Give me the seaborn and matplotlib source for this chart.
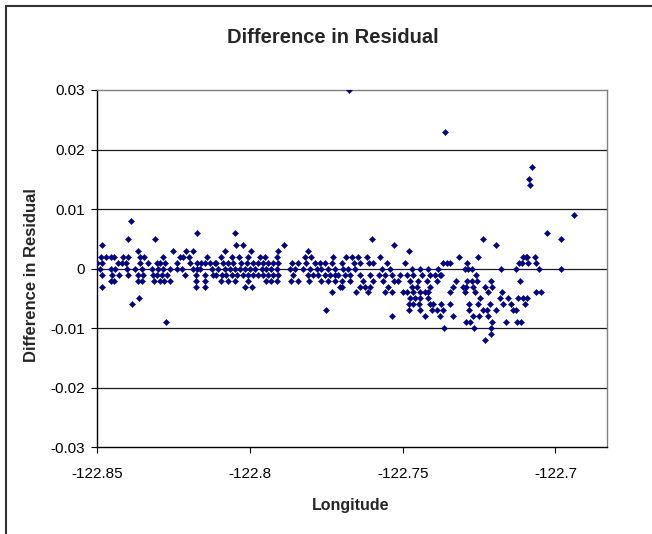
"""
Difference in Residual vs Longitude (Excel-style scatter)
"""

import numpy as np
import pandas as pd
import matplotlib
matplotlib.use('Agg')
import matplotlib.pyplot as plt
import seaborn as sns
from matplotlib.lines import Line2D

# Data, split by longitude band
west_lon = [
    -122.8391, -122.8175, -122.8399, -122.8311, -122.8486,
    -122.8366, -122.8251, -122.8208, -122.8188,
    -122.8489, -122.8472, -122.8456, -122.8445, -122.8415, -122.8399, -122.8360,
    -122.8347, -122.8284, -122.8229, -122.8219, -122.8199, -122.8142,
    -122.8500, -122.8483, -122.8431, -122.8420, -122.8406, -122.8360, -122.8333, -122.8306, -122.8295,
    -122.8279, -122.8238, -122.8197, -122.8175, -122.8159, -122.8148, -122.8131, -122.8115,
    -122.8491, -122.8456, -122.8442, -122.8404, -122.8377, -122.8352, -122.8322, -122.8300,
    -122.8286, -122.8262, -122.8240, -122.8224, -122.8186, -122.8175, -122.8164, -122.8126,
    -122.8486, -122.8453, -122.8428, -122.8399, -122.8366, -122.8349, -122.8317,
    -122.8306, -122.8289, -122.8271, -122.8213, -122.8177, -122.8148, -122.8120,
    -122.8456, -122.8445, -122.8366, -122.8352, -122.8315, -122.8295, -122.8282, -122.8262, -122.8177, -122.8148,
    -122.8483, -122.8177, -122.8148, -122.8363, -122.8388, -122.8275,
]
west_diff = [
    0.008, 0.006, 0.005, 0.005, 0.004,
    0.003, 0.003, 0.003, 0.003,
    0.002, 0.002, 0.002, 0.002, 0.002, 0.002, 0.002,
    0.002, 0.002, 0.002, 0.002, 0.002, 0.002,
    0.001, 0.001, 0.001, 0.001, 0.001, 0.001, 0.001, 0.001, 0.001,
    0.001, 0.001, 0.001, 0.001, 0.001, 0.001, 0.001, 0.001,
    0.0, 0.0, 0.0, 0.0, 0.0, 0.0, 0.0, 0.0,
    0.0, 0.0, 0.0, 0.0, 0.0, 0.0, 0.0, 0.0,
    -0.001, -0.001, -0.001, -0.001, -0.001, -0.001, -0.001,
    -0.001, -0.001, -0.001, -0.001, -0.001, -0.001, -0.001,
    -0.002, -0.002, -0.002, -0.002, -0.002, -0.002, -0.002, -0.002, -0.002, -0.002,
    -0.003, -0.003, -0.003, -0.005, -0.006, -0.009,
]

central_lon = [
    -122.8050, -122.8047, -122.8022, -122.7888,
    -122.8082, -122.7997, -122.7908, -122.7810,
    -122.8095, -122.8060, -122.8036, -122.8006, -122.7968,
    -122.7951, -122.7913, -122.7820, -122.7799, -122.7728,
    -122.8110, -122.8088, -122.8071, -122.8055, -122.8028, -122.8011, -122.7990,
    -122.7973, -122.7957, -122.7940, -122.7924, -122.7908, -122.7864,
    -122.7842, -122.7815, -122.7788, -122.7771, -122.7755, -122.7733,
    -122.8104, -122.8082, -122.8066, -122.8050, -122.8033, -122.8017, -122.8000,
    -122.7984, -122.7962, -122.7946, -122.7930, -122.7913, -122.7870, -122.7853,
    -122.7826, -122.7804, -122.7782, -122.7766, -122.7744, -122.7722,
    -122.8110, -122.8093, -122.8077, -122.8060, -122.8044, -122.8022, -122.8006,
    -122.7990, -122.7973, -122.7957, -122.7940, -122.7924, -122.7908, -122.7859,
    -122.7810, -122.7793, -122.7777, -122.7755, -122.7739, -122.7722, -122.7711,
    -122.8095, -122.8071, -122.8050, -122.8006, -122.7946, -122.7930, -122.7913,
    -122.7866, -122.7842, -122.7806, -122.7766, -122.7744, -122.7722,
    -122.8017, -122.7995, -122.7706, -122.7733, -122.7752,
]
central_diff = [
    0.006, 0.004, 0.004, 0.004,
    0.003, 0.003, 0.003, 0.003,
    0.002, 0.002, 0.002, 0.002, 0.002,
    0.002, 0.002, 0.002, 0.002, 0.002,
    0.001, 0.001, 0.001, 0.001, 0.001, 0.001, 0.001,
    0.001, 0.001, 0.001, 0.001, 0.001, 0.001,
    0.001, 0.001, 0.001, 0.001, 0.001, 0.001,
    0.0, 0.0, 0.0, 0.0, 0.0, 0.0, 0.0,
    0.0, 0.0, 0.0, 0.0, 0.0, 0.0, 0.0,
    0.0, 0.0, 0.0, 0.0, 0.0, 0.0,
    -0.001, -0.001, -0.001, -0.001, -0.001, -0.001, -0.001,
    -0.001, -0.001, -0.001, -0.001, -0.001, -0.001, -0.001,
    -0.001, -0.001, -0.001, -0.001, -0.001, -0.001, -0.001,
    -0.002, -0.002, -0.002, -0.002, -0.002, -0.002, -0.002,
    -0.002, -0.002, -0.002, -0.002, -0.002, -0.002,
    -0.003, -0.003, -0.003, -0.004, -0.007,
]

east_lon = [
    -122.7599, -122.7530, -122.7479,
    -122.7685, -122.7667, -122.7645, -122.7618, -122.7574,
    -122.7700, -122.7661, -122.7640, -122.7609, -122.7596, -122.7552, -122.7492,
    -122.7694, -122.7678, -122.7656, -122.7569, -122.7541, -122.7470, -122.7443, -122.7416, -122.7383,
    -122.7689, -122.7672, -122.7640, -122.7607, -122.7576, -122.7558, -122.7536,
    -122.7509, -122.7487, -122.7467, -122.7438, -122.7410, -122.7394, -122.7378,
    -122.7700, -122.7672, -122.7629, -122.7596, -122.7563, -122.7530,
    -122.7514, -122.7476, -122.7449, -122.7421, -122.7389,
    -122.7700, -122.7640, -122.7623, -122.7607, -122.7547, -122.7470, -122.7454, -122.7410,
    -122.7653, -122.7612, -122.7558, -122.7536, -122.7498,
    -122.7487, -122.7465, -122.7443, -122.7427, -122.7416,
    -122.7476, -122.7460, -122.7443, -122.7416,
    -122.7481, -122.7465, -122.7445, -122.7410, -122.7400,
    -122.7479, -122.7443, -122.7405, -122.7389,
    -122.7536, -122.7427, -122.7378,
]
east_diff = [
    0.005, 0.004, 0.003,
    0.002, 0.002, 0.002, 0.002, 0.002,
    0.001, 0.001, 0.001, 0.001, 0.001, 0.001, 0.001,
    0.0, 0.0, 0.0, 0.0, 0.0, 0.0, 0.0, 0.0, 0.0,
    -0.001, -0.001, -0.001, -0.001, -0.001, -0.001, -0.001,
    -0.001, -0.001, -0.001, -0.001, -0.001, -0.001, -0.001,
    -0.002, -0.002, -0.002, -0.002, -0.002, -0.002,
    -0.002, -0.002, -0.002, -0.002, -0.002,
    -0.003, -0.003, -0.003, -0.003, -0.003, -0.003, -0.003, -0.003,
    -0.004, -0.004, -0.004, -0.004, -0.004,
    -0.004, -0.004, -0.004, -0.004, -0.004,
    -0.005, -0.005, -0.005, -0.005,
    -0.006, -0.006, -0.006, -0.006, -0.006,
    -0.007, -0.007, -0.007, -0.007,
    -0.008, -0.008, -0.008,
]

far_east_lon = [
    -122.7076, -122.7086, -122.7083, -122.6939, -122.7027,
    -122.7238, -122.6982, -122.7193,
    -122.7315, -122.7255, -122.7105, -122.7097, -122.7092, -122.7067,
    -122.7367, -122.7356, -122.7345, -122.7291, -122.7118, -122.7111, -122.7089, -122.7062,
    -122.7296, -122.7285, -122.7274, -122.7178, -122.7129, -122.7054, -122.6983,
    -122.7373, -122.7260,
    -122.7326, -122.7291, -122.7274, -122.7258, -122.7212, -122.7116,
    -122.7334, -122.7304, -122.7293, -122.7269, -122.7231, -122.7206,
    -122.7345, -122.7296, -122.7263, -122.7220, -122.7174, -122.7062, -122.7047,
    -122.7247, -122.7182, -122.7154, -122.7122, -122.7105, -122.7092,
    -122.7373, -122.7345, -122.7282, -122.7255, -122.7214, -122.7171, -122.7147, -122.7100,
    -122.7367, -122.7282, -122.7238, -122.7225, -122.7195, -122.7138, -122.7129,
    -122.7334, -122.7269, -122.7249, -122.7220,
    -122.7294, -122.7280, -122.7209, -122.7163, -122.7127, -122.7114,
    -122.7365, -122.7266, -122.7211, -122.7211, -122.7231,
]
far_east_diff = [
    0.017, 0.015, 0.014, 0.009, 0.006,
    0.005, 0.005, 0.004,
    0.002, 0.002, 0.002, 0.002, 0.002, 0.002,
    0.001, 0.001, 0.001, 0.001, 0.001, 0.001, 0.001, 0.001,
    0.0, 0.0, 0.0, 0.0, 0.0, 0.0, 0.0,
    -0.001, -0.001,
    -0.002, -0.002, -0.002, -0.002, -0.002, -0.002,
    -0.003, -0.003, -0.003, -0.003, -0.003, -0.003,
    -0.004, -0.004, -0.004, -0.004, -0.004, -0.004, -0.004,
    -0.005, -0.005, -0.005, -0.005, -0.005, -0.005,
    -0.006, -0.006, -0.006, -0.006, -0.006, -0.006, -0.006, -0.006,
    -0.007, -0.007, -0.007, -0.007, -0.007, -0.007, -0.007,
    -0.008, -0.008, -0.008, -0.008,
    -0.009, -0.009, -0.009, -0.009, -0.009, -0.009,
    -0.010, -0.010, -0.010, -0.011, -0.012,
]

outlier_lon = [-122.7677, -122.7360]
outlier_diff = [0.030, 0.023]

x_ticks = [-122.85, -122.8, -122.75, -122.7]
x_tick_labels = ['-122.85', '-122.8', '-122.75', '-122.7']
y_ticks = [-0.03, -0.02, -0.01, 0.0, 0.01, 0.02, 0.03]
y_tick_labels = ['-0.03', '-0.02', '-0.01', '0', '0.01', '0.02', '0.03']

df = pd.DataFrame({
    'Longitude': np.concatenate([west_lon, central_lon, east_lon, far_east_lon, outlier_lon]),
    'Difference': np.concatenate([west_diff, central_diff, east_diff, far_east_diff, outlier_diff]),
})

sns.set_style('white')
plt.rcParams['font.family'] = ['Liberation Sans', 'DejaVu Sans']
plt.rcParams['axes.unicode_minus'] = False

W, H = 652, 534
fig = plt.figure(figsize=(W / 100, H / 100), dpi=100)
ax = fig.add_axes([97.3 / W, 1 - 447.3 / H, (607 - 97.3) / W, (447.3 - 90) / H])

# gridlines behind the points
for yv in y_ticks[1:-1]:
    ax.axhline(yv, color='#1a1a1a', lw=0.9, zorder=0)

sns.scatterplot(data=df, x='Longitude', y='Difference', ax=ax, marker='D', s=10,
                color='#000080', edgecolor='#000080', linewidth=0.3, legend=False, zorder=3)

ax.set_xlim(-122.85, -122.85 + (607 - 97.3) / 3054)
ax.set_ylim(-0.03, 0.03)
ax.set_xticks(x_ticks)
ax.set_xticklabels(x_tick_labels)
ax.set_yticks(y_ticks)
ax.set_yticklabels(y_tick_labels)
ax.set_xlabel('')
ax.set_ylabel('')
ax.tick_params(axis='both', direction='out', length=4.3, width=0.8, labelsize=11,
               colors='black', left=True, bottom=True)
ax.tick_params(axis='x', pad=10)
ax.tick_params(axis='y', pad=4.6)

for side in ['left', 'bottom']:
    ax.spines[side].set_color('black')
    ax.spines[side].set_linewidth(1.0)
for side in ['top', 'right']:
    ax.spines[side].set_color('#808080')
    ax.spines[side].set_linewidth(1.0)

fig.text(332.5 / W, 1 - 43.3 / H, 'Difference in Residual', ha='center', va='baseline',
         fontsize=14.5, fontweight='bold')
fig.text(32 / W, 1 - 275 / H, 'Difference in Residual', ha='center', va='center',
         rotation=90, fontsize=12, fontweight='bold')
fig.text(351 / W, 1 - 510 / H, 'Longitude', ha='center', va='baseline',
         fontsize=11.5, fontweight='bold')

# chart frame (top and left edges visible)
fig.add_artist(Line2D([6 / W, 1.01], [1 - 5.5 / H, 1 - 5.5 / H], color='#333333', lw=1.5))
fig.add_artist(Line2D([6 / W, 6 / W], [-0.01, 1 - 5.5 / H], color='#333333', lw=1.5))

fig.savefig('out.png', dpi=100)
